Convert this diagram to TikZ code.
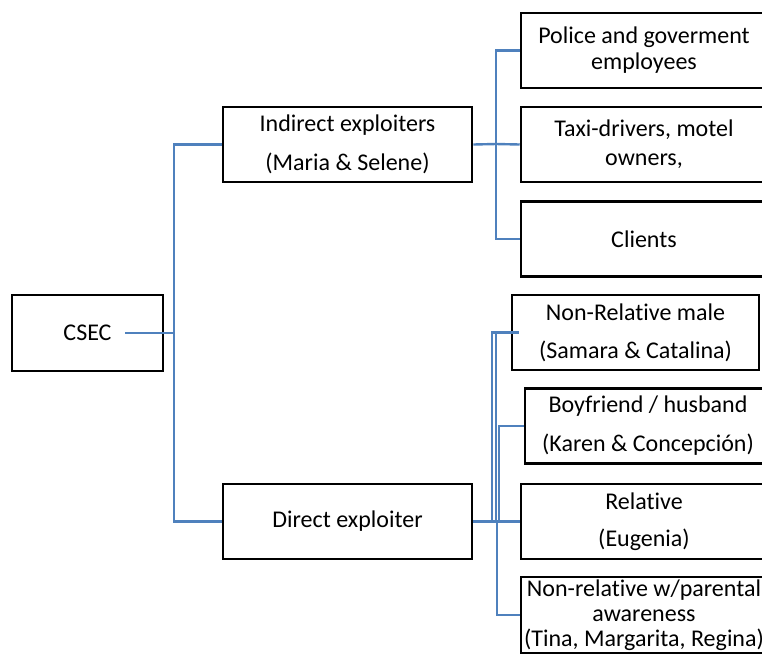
\documentclass[tikz,border=0pt]{standalone}
\usepackage{fontspec}
\setmainfont[Ligatures=NoCommon]{Carlito}
\definecolor{linkblue}{RGB}{79,129,189}
\tikzset{
	box/.style={draw, line width=1.9pt, rectangle, align=center, inner sep=0pt,
		minimum height=56.25pt, font=\fontsize{18}{19.5}\selectfont},
	sidebox/.style={box, minimum width=184.5pt},
	midbox/.style={box, minimum width=186.75pt},
	link/.style={draw=linkblue, line width=1.8pt},
}
\begin{document}
\begin{tikzpicture}[x=0.75pt,y=-0.75pt]
	\useasboundingbox (0,0) rectangle (762,654);
	\clip (0,0) rectangle (762,654);
	% root
	\node[box, minimum width=113.25pt, minimum height=57pt] (csec) at (87.5,333) {CSEC};
	% middle level
	\node[midbox] (indirect) at (347.5,144.5) {Indirect exploiters\\[9.75pt](Maria \& Selene)};
	\node[midbox] (direct) at (347.5,521.5) {Direct exploiter};
	% indirect side
	\node[sidebox] (police) at (644,50.5) {Police and goverment\\employees};
	\node[sidebox] (taxi) at (644,144.5) {Taxi-drivers, motel\\[2pt]owners,};
	\node[sidebox] (clients) at (644,239) {Clients};
	% direct side
	\node[box, minimum width=185.25pt] (nonrelmale) at (635.5,332.5) {Non-Relative male\\[9pt](Samara \& Catalina)};
	\node[sidebox] (boyfriend) at (648,426) {Boyfriend / husband\\[9.75pt](Karen \& Concepción)};
	\node[sidebox] (relative) at (644,521.5) {Relative\\[8.25pt](Eugenia)};
	\node[sidebox, minimum height=57pt, font=\fontsize{18}{18.75}\selectfont] (parental) at (644,615)
		{Non-relative w/parental\\awareness\\(Tina, Margarita, Regina)};
	% joints
	\coordinate (csecout) at (125,333);
	\coordinate (trunk) at (174,333);
	\coordinate (ujoin) at (496,144);
	\coordinate (ljoinA) at (492,521);
	\coordinate (ljoinB) at (496,521);
	\coordinate (ljoinC) at (499,521);
	\coordinate (ljoinD) at (497,521);
	% connectors
	\draw[link] (csecout) -- (trunk);
	\draw[link] (indirect.west) -| (trunk) |- (direct.west);
	\draw[link] (indirect.east) -- (ujoin) -- (taxi.west);
	\draw[link] (police.west) -| (ujoin) |- (clients.west);
	\draw[link] (direct.east) -- (relative.west);
	\draw[link, shorten >=-6pt] (ljoinA) |- (nonrelmale.west);
	\draw[link, line width=1.2pt] (ljoinB) |- (nonrelmale.west);
	\draw[link] (ljoinC) |- (boyfriend.west);
	\draw[link] (ljoinD) |- (parental.west);
\end{tikzpicture}
\end{document}
